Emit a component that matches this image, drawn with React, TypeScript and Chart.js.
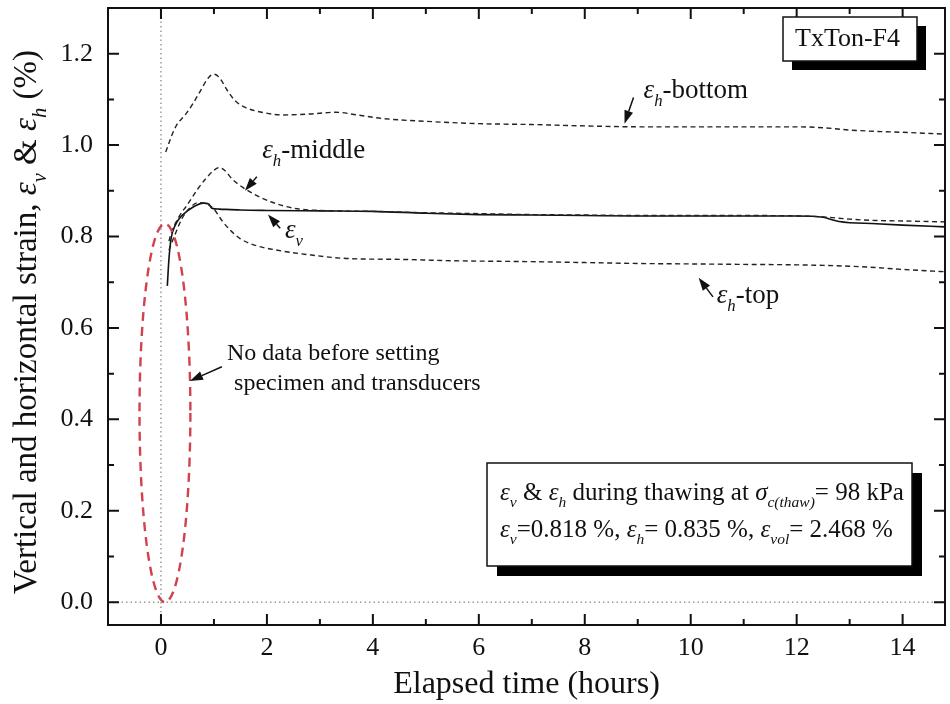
import React, { useEffect, useRef } from 'react';
import { Chart, registerables } from 'chart.js';

Chart.register(...registerables);

const FONT = "'Liberation Serif', 'Times New Roman', serif";

// Elapsed time (hours) and strain (%)
const bottomX = [0.09, 0.2, 0.3, 0.45, 0.6, 0.75, 0.9, 1.0, 1.1, 1.25, 1.4, 1.6, 1.9, 2.3, 2.8, 3.3, 3.7, 4.2, 5.0, 6.0, 7.0, 8.0, 9.0, 10.0, 11.0, 12.0, 12.5, 13.0, 13.5, 14.0, 14.8];
const bottomY = [0.985, 1.02, 1.045, 1.065, 1.09, 1.12, 1.148, 1.155, 1.148, 1.12, 1.097, 1.082, 1.072, 1.066, 1.068, 1.072, 1.066, 1.058, 1.052, 1.047, 1.045, 1.042, 1.04, 1.04, 1.04, 1.04, 1.038, 1.033, 1.03, 1.028, 1.024];

const middleX = [0.15, 0.2, 0.35, 0.5, 0.7, 0.85, 1.0, 1.1, 1.2, 1.35, 1.55, 1.8, 2.1, 2.5, 3.0, 4.0, 5.0, 6.0, 7.0, 8.0, 9.0, 10.0, 11.0, 12.0, 12.5, 13.0, 13.5, 14.0, 14.8];
const middleY = [0.79, 0.81, 0.845, 0.87, 0.905, 0.927, 0.945, 0.951, 0.945, 0.925, 0.907, 0.89, 0.875, 0.862, 0.857, 0.855, 0.852, 0.85, 0.848, 0.847, 0.846, 0.846, 0.846, 0.845, 0.843, 0.838, 0.835, 0.834, 0.832];

const topX = [0.15, 0.25, 0.4, 0.55, 0.7, 0.85, 1.0, 1.15, 1.3, 1.5, 1.8, 2.2, 2.8, 3.5, 4.5, 5.5, 7.0, 8.0, 9.0, 10.0, 11.0, 12.0, 13.0, 13.5, 14.0, 14.8];
const topY = [0.77, 0.8, 0.84, 0.863, 0.874, 0.872, 0.86, 0.835, 0.815, 0.795, 0.78, 0.77, 0.76, 0.752, 0.75, 0.747, 0.745, 0.743, 0.741, 0.74, 0.739, 0.738, 0.735, 0.732, 0.728, 0.723];

const verticalX = [0.12, 0.15, 0.19, 0.27, 0.35, 0.5, 0.66, 0.8, 0.9, 0.96, 1.1, 1.5, 2.0, 3.0, 4.0, 5.0, 6.0, 7.0, 8.0, 9.0, 10.0, 11.0, 12.0, 12.5, 12.8, 13.5, 14.0, 14.8];
const verticalY = [0.692, 0.75, 0.795, 0.825, 0.84, 0.856, 0.868, 0.873, 0.871, 0.862, 0.86, 0.858, 0.857, 0.856, 0.855, 0.851, 0.848, 0.847, 0.846, 0.845, 0.845, 0.845, 0.845, 0.842, 0.833, 0.828, 0.825, 0.821];

const X_MIN = -1;
const X_MAX = 14.8;
const Y_MIN = -0.05;
const Y_MAX = 1.3;
const X_STEP = 2;
const Y_STEP = 0.2;

type Seg = { t: string; it?: boolean; sub?: boolean };

const pts = (xs: number[], ys: number[]) => xs.map((x, i) => ({ x, y: ys[i] }));

function drawRich(ctx: CanvasRenderingContext2D, segs: Seg[], x: number, y: number, size: number, measureOnly = false) {
  ctx.textBaseline = 'middle';
  ctx.textAlign = 'left';
  ctx.fillStyle = '#111';
  let cx = x;
  for (const s of segs) {
    const fs = s.sub ? size * 0.62 : size;
    ctx.font = `${s.it ? 'italic ' : ''}${fs}px ${FONT}`;
    if (!measureOnly) ctx.fillText(s.t, cx, s.sub ? y + size * 0.4 : y);
    cx += ctx.measureText(s.t).width;
  }
  return cx - x;
}

function arrow(ctx: CanvasRenderingContext2D, x1: number, y1: number, x2: number, y2: number) {
  const ang = Math.atan2(y2 - y1, x2 - x1);
  const L = 13;
  const W = 4.5;
  const bx = x2 - L * Math.cos(ang);
  const by = y2 - L * Math.sin(ang);
  ctx.save();
  ctx.strokeStyle = '#111';
  ctx.fillStyle = '#111';
  ctx.lineWidth = 1.5;
  ctx.setLineDash([]);
  ctx.beginPath();
  ctx.moveTo(x1, y1);
  ctx.lineTo(bx, by);
  ctx.stroke();
  ctx.beginPath();
  ctx.moveTo(x2, y2);
  ctx.lineTo(bx + W * Math.sin(ang), by - W * Math.cos(ang));
  ctx.lineTo(bx - W * Math.sin(ang), by + W * Math.cos(ang));
  ctx.closePath();
  ctx.fill();
  ctx.restore();
}

function shadowBox(ctx: CanvasRenderingContext2D, x: number, y: number, w: number, h: number, off: number) {
  ctx.save();
  ctx.fillStyle = '#000';
  ctx.fillRect(x + off, y + off, w, h);
  ctx.fillStyle = '#fff';
  ctx.fillRect(x, y, w, h);
  ctx.strokeStyle = '#111';
  ctx.lineWidth = 1.5;
  ctx.strokeRect(x, y, w, h);
  ctx.restore();
}

const decor = {
  id: 'decor',
  beforeDatasetsDraw(chart: any) {
    const { ctx, chartArea: a, scales } = chart;
    const xs = scales.x;
    const ys = scales.y;
    ctx.save();
    ctx.strokeStyle = '#666';
    ctx.lineWidth = 1;
    ctx.setLineDash([1.5, 3]);
    const x0 = xs.getPixelForValue(0);
    ctx.beginPath();
    ctx.moveTo(x0, a.top);
    ctx.lineTo(x0, a.bottom);
    const y0 = ys.getPixelForValue(0);
    ctx.moveTo(a.left, y0);
    ctx.lineTo(a.right, y0);
    ctx.stroke();
    ctx.restore();
  },
  afterDatasetsDraw(chart: any) {
    const { ctx, chartArea: a, scales } = chart;
    const xs = scales.x;
    const ys = scales.y;
    const X = (v: number) => xs.getPixelForValue(v);
    const Y = (v: number) => ys.getPixelForValue(v);

    ctx.save();
    // frame
    ctx.strokeStyle = '#111';
    ctx.lineWidth = 2;
    ctx.setLineDash([]);
    ctx.strokeRect(a.left, a.top, a.right - a.left, a.bottom - a.top);

    // inward ticks on all four sides
    ctx.lineWidth = 2;
    ctx.beginPath();
    for (let h = Math.ceil(X_MIN); h <= X_MAX; h++) {
      if (h <= X_MIN || h >= X_MAX) continue;
      const len = h % 2 === 0 ? 11 : 6;
      const px = X(h);
      ctx.moveTo(px, a.bottom);
      ctx.lineTo(px, a.bottom - len);
      ctx.moveTo(px, a.top);
      ctx.lineTo(px, a.top + len);
    }
    for (let k = 0; k <= 13; k++) {
      const v = k / 10;
      if (v <= Y_MIN || v >= Y_MAX) continue;
      const len = k % 2 === 0 ? 11 : 6;
      const py = Y(v);
      ctx.moveTo(a.left, py);
      ctx.lineTo(a.left + len, py);
      ctx.moveTo(a.right, py);
      ctx.lineTo(a.right - len, py);
    }
    ctx.stroke();

    // red dashed ellipse around the no-data region
    const ecx = X(0.075);
    const ecy = Y(0.414);
    const erx = X(0.075 + 0.48) - ecx;
    const ery = ecy - Y(0.414 + 0.414);
    ctx.strokeStyle = '#d2424e';
    ctx.lineWidth = 2.4;
    ctx.setLineDash([9, 6]);
    ctx.beginPath();
    ctx.ellipse(ecx, ecy, erx, ery, 0, 0, Math.PI * 2);
    ctx.stroke();
    ctx.setLineDash([]);
    ctx.restore();

    // curve labels and arrows
    const LS = 27;
    ctx.save();
    drawRich(ctx, [{ t: 'ε', it: true }, { t: 'h', it: true, sub: true }, { t: '-bottom' }], X(9.11), Y(1.119), LS);
    arrow(ctx, X(8.92), Y(1.104), X(8.75), Y(1.047));
    drawRich(ctx, [{ t: 'ε', it: true }, { t: 'h', it: true, sub: true }, { t: '-middle' }], X(1.91), Y(0.988), LS);
    arrow(ctx, X(1.81), Y(0.931), X(1.585), Y(0.9));
    drawRich(ctx, [{ t: 'ε', it: true }, { t: 'v', it: true, sub: true }], X(2.34), Y(0.813), LS);
    arrow(ctx, X(2.25), Y(0.818), X(2.02), Y(0.848));
    drawRich(ctx, [{ t: 'ε', it: true }, { t: 'h', it: true, sub: true }, { t: '-top' }], X(10.49), Y(0.67), LS);
    arrow(ctx, X(10.42), Y(0.668), X(10.15), Y(0.71));

    // no-data note
    drawRich(ctx, [{ t: 'No data before setting' }], X(1.245), Y(0.543), 24);
    drawRich(ctx, [{ t: 'specimen and transducers' }], X(1.38), Y(0.478), 24);
    arrow(ctx, X(1.15), Y(0.515), X(0.547), Y(0.484));

    // specimen label box (top right)
    shadowBox(ctx, 783, 17, 134, 44, 9);
    drawRich(ctx, [{ t: 'TxTon-F4' }], 795, 39, 26);

    // summary box (bottom right)
    shadowBox(ctx, 487, 463, 425, 103, 10);
    const BS = 25;
    drawRich(ctx, [
      { t: 'ε', it: true }, { t: 'v', it: true, sub: true }, { t: ' & ' },
      { t: 'ε', it: true }, { t: 'h', it: true, sub: true }, { t: ' during thawing at ' },
      { t: 'σ', it: true }, { t: 'c(thaw)', it: true, sub: true }, { t: '= 98 kPa' },
    ], 500, 493, BS);
    drawRich(ctx, [
      { t: 'ε', it: true }, { t: 'v', it: true, sub: true }, { t: '=0.818 %, ' },
      { t: 'ε', it: true }, { t: 'h', it: true, sub: true }, { t: '= 0.835 %, ' },
      { t: 'ε', it: true }, { t: 'vol', it: true, sub: true }, { t: '= 2.468 %' },
    ], 500, 530, BS);

    // y-axis title (rotated, with italic subscripts)
    const title: Seg[] = [
      { t: 'Vertical and horizontal strain, ' },
      { t: 'ε', it: true }, { t: 'v', it: true, sub: true }, { t: ' & ' },
      { t: 'ε', it: true }, { t: 'h', it: true, sub: true }, { t: ' (%)' },
    ];
    const TS = 33;
    ctx.translate(27, 322);
    ctx.rotate(-Math.PI / 2);
    const w = drawRich(ctx, title, 0, 0, TS, true);
    drawRich(ctx, title, -w / 2, 0, TS);
    ctx.restore();
  },
};

export default function App() {
  const ref = useRef<HTMLCanvasElement | null>(null);

  useEffect(() => {
    if (!ref.current) return;
    const dash = [5, 3.5];
    const chart = new Chart(ref.current, {
      type: 'scatter',
      data: {
        datasets: [
          { label: 'εh-bottom', data: pts(bottomX, bottomY), borderColor: '#222', borderWidth: 1.4, borderDash: dash, showLine: true, pointRadius: 0, cubicInterpolationMode: 'monotone' },
          { label: 'εh-middle', data: pts(middleX, middleY), borderColor: '#222', borderWidth: 1.4, borderDash: dash, showLine: true, pointRadius: 0, cubicInterpolationMode: 'monotone' },
          { label: 'εh-top', data: pts(topX, topY), borderColor: '#222', borderWidth: 1.4, borderDash: dash, showLine: true, pointRadius: 0, cubicInterpolationMode: 'monotone' },
          { label: 'εv', data: pts(verticalX, verticalY), borderColor: '#111', borderWidth: 1.6, showLine: true, pointRadius: 0, cubicInterpolationMode: 'monotone' },
        ],
      } as any,
      options: {
        animation: false,
        responsive: false,
        layout: { padding: { top: 8, right: 5, left: 0, bottom: 0 } },
        plugins: { legend: { display: false }, tooltip: { enabled: false } },
        scales: {
          x: {
            type: 'linear',
            min: X_MIN,
            max: X_MAX,
            afterFit: (s: any) => { s.height = 79; s.paddingLeft = 0; s.paddingRight = 0; },
            grid: { display: false, drawTicks: false },
            border: { display: false },
            ticks: {
              stepSize: X_STEP,
              includeBounds: false,
              autoSkip: false,
              maxRotation: 0,
              padding: 8,
              color: '#111',
              font: { family: FONT, size: 26 },
              callback: (v: any) => String(v),
            },
            title: {
              display: true,
              text: 'Elapsed time (hours)',
              color: '#111',
              font: { family: FONT, size: 32 },
              padding: { top: 0, bottom: 0 },
            },
          },
          y: {
            type: 'linear',
            min: Y_MIN,
            max: Y_MAX,
            afterFit: (s: any) => { s.width = 108; s.paddingTop = 0; s.paddingBottom = 0; },
            grid: { display: false, drawTicks: false },
            border: { display: false },
            ticks: {
              stepSize: Y_STEP,
              includeBounds: false,
              autoSkip: false,
              padding: 15,
              color: '#111',
              font: { family: FONT, size: 26 },
              callback: (v: any) => Number(v).toFixed(1),
            },
          },
        },
      } as any,
      plugins: [decor],
    });
    return () => chart.destroy();
  }, []);

  return (
    <div style={{ position: 'absolute', left: 0, top: 0, width: 950, height: 704, background: '#fff' }}>
      <canvas ref={ref} width={950} height={704} style={{ display: 'block', width: 950, height: 704 }} />
    </div>
  );
}
